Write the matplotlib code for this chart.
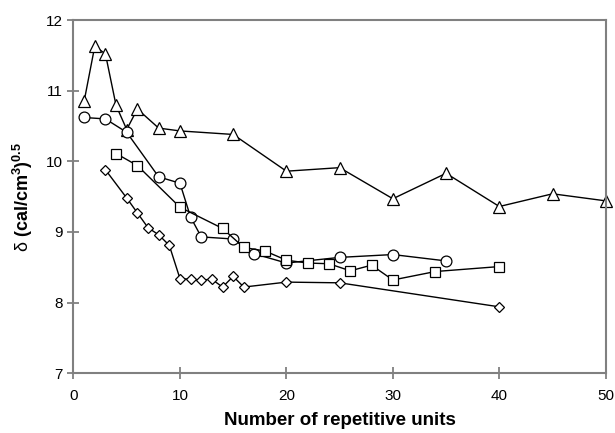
import matplotlib
matplotlib.use("Agg")
import matplotlib.pyplot as plt

plt.rcParams['font.family'] = ['Liberation Sans', 'DejaVu Sans']
plt.rcParams['mathtext.fontset'] = 'custom'
plt.rcParams['mathtext.rm'] = 'Liberation Sans'
plt.rcParams['mathtext.it'] = 'Liberation Sans'
plt.rcParams['mathtext.bf'] = 'Liberation Sans:bold'

tri_x = [1, 2, 3, 4, 5, 6, 8, 10, 15, 20, 25, 30, 35, 40, 45, 50]
tri_y = [10.85, 11.63, 11.52, 10.79, 10.45, 10.74, 10.47, 10.43, 10.38, 9.86, 9.91, 9.47, 9.83, 9.36, 9.54, 9.44]

cir_x = [1, 3, 5, 8, 10, 11, 12, 15, 17, 20, 25, 30, 35]
cir_y = [10.62, 10.60, 10.41, 9.78, 9.69, 9.21, 8.93, 8.90, 8.69, 8.56, 8.64, 8.68, 8.59]

sq_x = [4, 6, 10, 14, 16, 18, 20, 22, 24, 26, 28, 30, 34, 40]
sq_y = [10.11, 9.94, 9.35, 9.05, 8.78, 8.73, 8.60, 8.56, 8.55, 8.45, 8.53, 8.32, 8.44, 8.51]

dia_x = [3, 5, 6, 7, 8, 9, 10, 11, 12, 13, 14, 15, 16, 20, 25, 40]
dia_y = [9.88, 9.48, 9.27, 9.06, 8.96, 8.81, 8.34, 8.33, 8.32, 8.33, 8.22, 8.37, 8.22, 8.29, 8.28, 7.94]

x_ticks = [0, 10, 20, 30, 40, 50]
y_ticks = [7, 8, 9, 10, 11, 12]

fig = plt.figure(figsize=(6.15, 4.33), dpi=100)
ax = fig.add_axes([0.1195, 0.138, 0.8655, 0.8158])

kw = dict(color='black', lw=1.0, markerfacecolor='white', markeredgecolor='black', markeredgewidth=0.9, clip_on=False)
ax.plot(tri_x, tri_y, marker='^', markersize=8, **kw)
ax.plot(cir_x, cir_y, marker='o', markersize=7.8, **kw)
ax.plot(sq_x, sq_y, marker='s', markersize=7.8, **kw)
ax.plot(dia_x, dia_y, marker='D', markersize=5.2, **kw)

ax.set_xlim(0, 50)
ax.set_ylim(7, 12)
ax.set_xticks(x_ticks)
ax.set_yticks(y_ticks)
for s in ax.spines.values():
    s.set_color('#808080')
    s.set_linewidth(1.5)
ax.tick_params(direction='inout', length=9, width=1.3, color='#808080', labelsize=11)
ax.tick_params(axis='x', pad=7)
ax.tick_params(axis='y', pad=3)

ax.set_xlabel('Number of repetitive units', fontsize=13.5, fontweight='bold', labelpad=6)
ax.set_ylabel(r'$\mathrm{\delta}\ \mathbf{(cal/cm^3)^{0.5}}$', fontsize=13, labelpad=8)

fig.savefig('out.png', dpi=100)
